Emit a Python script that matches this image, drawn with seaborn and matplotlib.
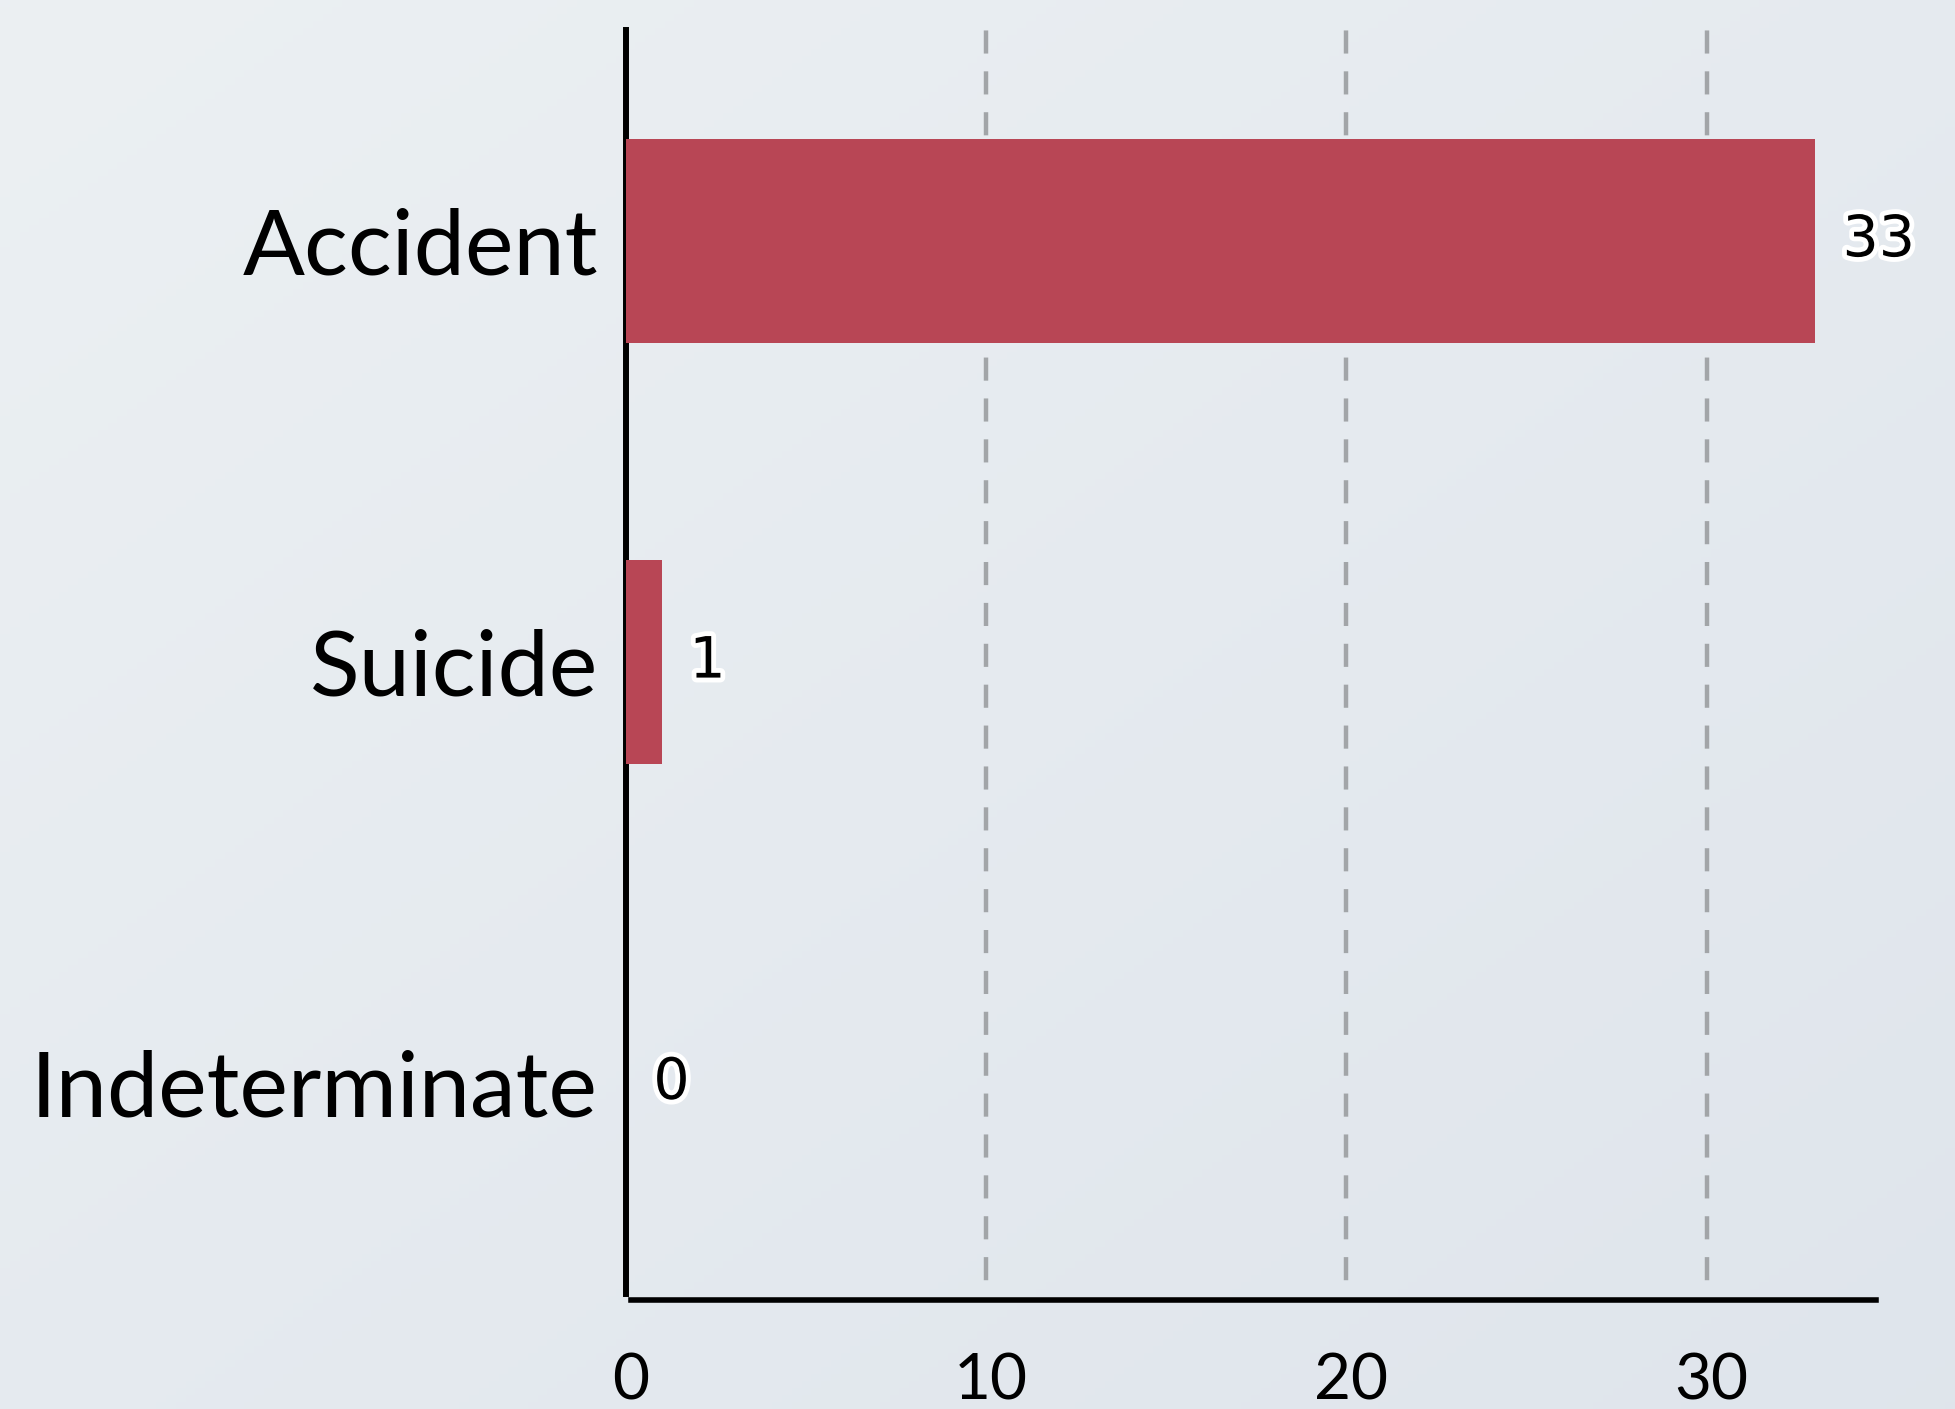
import numpy as np
import matplotlib
matplotlib.use("Agg")
import matplotlib.pyplot as plt
import matplotlib.patheffects as pe
import matplotlib.transforms as mtransforms
import seaborn as sns

# data
categories = ["Accident", "Suicide", "Indeterminate"]
counts = [33, 1, 0]
xticks = [0, 10, 20, 30]

sns.set_style("white")
plt.rcParams["font.family"] = ["Lato", "DejaVu Sans"]
plt.rcParams["text.color"] = "black"
plt.rcParams["xtick.color"] = "black"
plt.rcParams["ytick.color"] = "black"

fig = plt.figure(figsize=(19.55, 14.09), dpi=100)

# soft gradient background
bg = fig.add_axes([0, 0, 1, 1], zorder=-10)
gx, gy = np.meshgrid(np.linspace(0, 1, 200), np.linspace(0, 1, 200))
g = (gx + gy) / 2
c0 = np.array([0.925, 0.941, 0.953])
c1 = np.array([0.875, 0.898, 0.925])
img = c0 + (c1 - c0) * g[..., None]
bg.imshow(img, aspect="auto", extent=[0, 1, 0, 1], origin="upper")
bg.axis("off")

ax = fig.add_axes([0.320, 0.0816, 0.6396, 0.8970])
ax.patch.set_alpha(0)

sns.barplot(x=counts, y=categories, color="#b84655", width=0.485,
            saturation=1, linewidth=0, ax=ax, zorder=3)

ax.set_xlim(0, 34.7)
ax.set_xticks(xticks)
ax.set_xlabel("")
ax.set_ylabel("")

ax.grid(axis="x", color="#a2a5a8", linewidth=3.2, linestyle=(6.1, (5.2, 4.0)))
ax.grid(axis="y", visible=False)
ax.set_axisbelow(True)

for s in ["top", "right"]:
    ax.spines[s].set_visible(False)
ax.spines["left"].set_linewidth(4.3)
ax.spines["left"].set_color("black")
ax.spines["bottom"].set_linewidth(4.0)
ax.spines["bottom"].set_color("black")
ax.spines["bottom"].set_position(("outward", 4))
ax.spines["bottom"].set_bounds(0.15, 34.7)

ax.tick_params(axis="y", length=0, pad=20, labelsize=66, labelcolor="black")
ax.tick_params(axis="x", length=0, pad=38, labelcolor="black")
shift = mtransforms.ScaledTranslation(5 / 100, 0, fig.dpi_scale_trans)
for lab in ax.get_xticklabels():
    lab.set_fontsize(46)
    lab.set_transform(lab.get_transform() + shift)

ax.bar_label(ax.containers[0], labels=[str(v) for v in counts], padding=20,
             fontsize=41, family="DejaVu Sans", color="black",
             path_effects=[pe.withStroke(linewidth=7, foreground="white")],
             zorder=5)

fig.savefig("out.png", dpi=100, facecolor=fig.get_facecolor())
